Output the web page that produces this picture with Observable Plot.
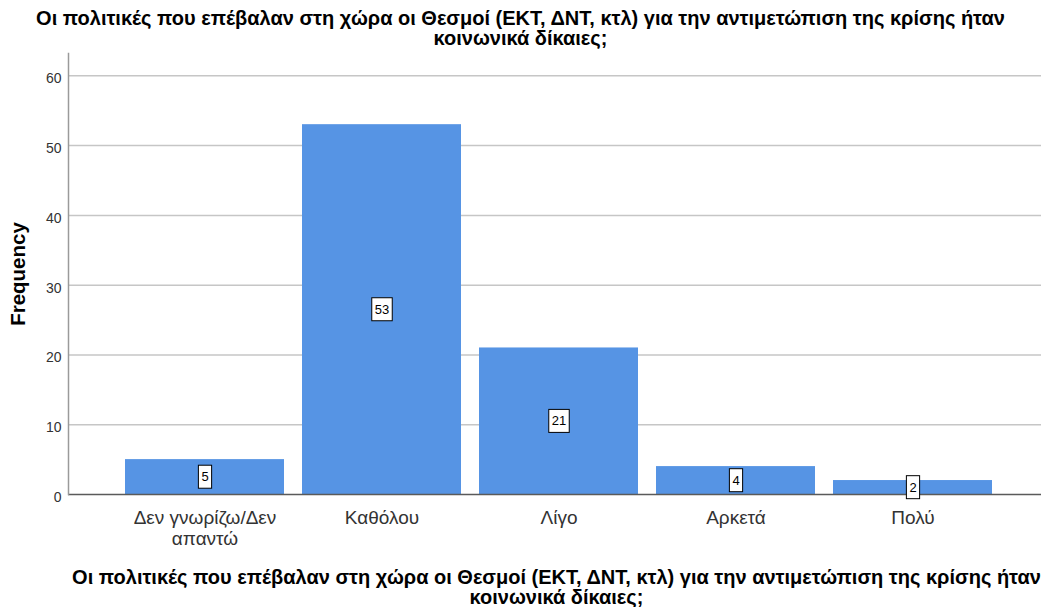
<!DOCTYPE html>
<html>
<head>
<meta charset="utf-8">
<script src="https://cdn.jsdelivr.net/npm/d3@7"></script>
<script src="https://cdn.jsdelivr.net/npm/@observablehq/plot@0.6"></script>
<style>
  body { margin: 0; background: #fff; font-family: "Liberation Sans", Arial, sans-serif; }
  #wrap { width: 1041px; position: relative; }
  .ttl { font-weight: bold; font-size: 20px; color: #000; text-align: center; white-space: nowrap; }
  #top { padding-top: 8px; height: 39px; line-height: 20px; }
  #bottom { padding-top: 7px; padding-left: 72px; width: 969px; line-height: 20px; }
  #chart svg { display: block; }
</style>
</head>
<body>
<div id="wrap">
  <div id="top" class="ttl"></div>
  <div id="chart"></div>
  <div id="bottom" class="ttl"></div>
</div>
<script>
const titleLines = ["Οι πολιτικές που επέβαλαν στη χώρα οι Θεσμοί (ΕΚΤ, ΔΝΤ, κτλ) για την αντιμετώπιση της κρίσης ήταν", "κοινωνικά δίκαιες;"];
const categories = ["Δεν γνωρίζω/Δεν\nαπαντώ", "Καθόλου", "Λίγο", "Αρκετά", "Πολύ"];
const counts = [5, 53, 21, 4, 2];
const yTicks = [0, 10, 20, 30, 40, 50, 60];
const yLabel = "Frequency";

const data = categories.map((c, i) => ({cat: c, n: counts[i]}));

document.getElementById("top").innerHTML = titleLines.join("<br>");
document.getElementById("bottom").innerHTML = titleLines.join("<br>");

const svg = Plot.plot({
  width: 1041,
  height: 513,
  marginTop: 6,
  marginBottom: 66,
  marginLeft: 68,
  marginRight: 0,
  style: {fontFamily: "'Liberation Sans', Arial, sans-serif", background: "#fff", overflow: "visible"},
  x: {domain: categories, range: [116, 1001], paddingInner: 0.1, paddingOuter: 0.05},
  y: {domain: [0, 63.2]},
  marks: [
    Plot.ruleY(yTicks.filter(d => d > 0), {stroke: "#c6c6c6", strokeWidth: 1.5}),
    Plot.barY(data, {x: "cat", y: "n", fill: "#5694e4"}),
    Plot.ruleY([0], {stroke: "#5a5a5a", strokeWidth: 1.5}),
    Plot.frame({anchor: "left", stroke: "#9a9a9a", strokeWidth: 1.5}),
    Plot.text(data, {x: "cat", y: d => d.n / 2, text: d => String(d.n), fontSize: 13, fill: "#000"}),
    Plot.axisY(yTicks, {tickSize: 0, tickPadding: 7, fontSize: 14, fill: "#333", dy: 3, label: null}),
    Plot.axisX({tickSize: 0, tickPadding: 15, fontSize: 19, fill: "#333", lineHeight: 1.1, label: null}),
    Plot.text([yLabel], {text: d => d, frameAnchor: "left", textAnchor: "middle", dx: -50, rotate: -90, fontWeight: "bold", fontSize: 20.5, fill: "#000"})
  ]
});

document.getElementById("chart").append(svg);

// white boxes behind the value labels
svg.querySelectorAll('g[aria-label="text"] text').forEach(t => {
  if (!/^\d+$/.test(t.textContent)) return;
  const b = t.getBBox();
  const r = document.createElementNS("http://www.w3.org/2000/svg", "rect");
  r.setAttribute("x", b.x - 3);
  r.setAttribute("y", b.y - 4);
  r.setAttribute("width", b.width + 6);
  r.setAttribute("height", b.height + 8);
  r.setAttribute("fill", "#fff");
  r.setAttribute("stroke", "#000");
  r.setAttribute("stroke-width", 1);
  const tr = t.getAttribute("transform");
  if (tr) r.setAttribute("transform", tr);
  t.parentNode.insertBefore(r, t);
});
</script>
</body>
</html>
